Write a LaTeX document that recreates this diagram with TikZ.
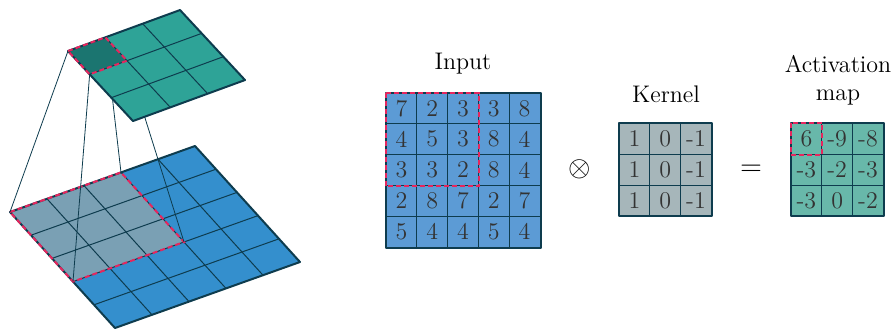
\documentclass[tikz,border=0pt]{standalone}
\usepackage{tikz}
\usetikzlibrary{positioning}
\usepackage{amsmath,amssymb,xcolor}
\definecolor{mygrid}{RGB}{14,60,78}
\definecolor{myred}{RGB}{230,38,94}
\definecolor{myblue}{RGB}{52,143,205}
\definecolor{mygray}{RGB}{122,160,180}
\definecolor{myteal}{RGB}{46,163,151}
\definecolor{mydark}{RGB}{27,117,112}
\definecolor{myinput}{RGB}{92,155,213}
\definecolor{mykernel}{RGB}{166,182,186}
\definecolor{myact}{RGB}{104,184,170}

\begin{document}
\begin{tikzpicture}[x=0.5pt,y=-0.5pt,
  gridline/.style={draw=mygrid,line width=0.5pt},
  border/.style={draw=mygrid,line width=1pt,line join=round},
  window/.style={draw=myred,line width=1pt,dash pattern=on 2.5pt off 1.5pt},
  link/.style={draw=mygrid,line width=0.4pt},
  cell/.style={rectangle,draw=mygrid,line width=0.5pt,minimum size=15.4pt,
               inner sep=0pt,font=\large,text=black!80},
  label/.style={font=\large,align=center,inner sep=0pt},
  bottomplane/.style={shift={(10,212)},x={(18.5pt,6.6pt)},y={(10.5pt,-11.6pt)}},
  topplane/.style={shift={(68,51)},x={(18.67pt,6.83pt)},y={(10.83pt,-11.67pt)}}]
\useasboundingbox (0,0) rectangle (896,329);

% input layer (5x5)
\begin{scope}[bottomplane]
  \fill[myblue] (0,0) -- (5,0) -- (5,5) -- (0,5) -- cycle;
  \fill[mygray] (0,0) -- (3,0) -- (3,3) -- (0,3) -- cycle;
  \foreach \i in {1,...,4} {
    \draw[gridline] (\i,0) -- (\i,5);
    \draw[gridline] (0,\i) -- (5,\i);
  }
  \draw[border] (0,0) -- (5,0) -- (5,5) -- (0,5) -- cycle;
  \draw[window] (0,0) -- (3,0) -- (3,3) -- (0,3) -- cycle;
  \coordinate (b00) at (0,0);
  \coordinate (b30) at (3,0);
  \coordinate (b03) at (0,3);
  \coordinate (b33) at (3,3);
\end{scope}

% corners of the output cell
\begin{scope}[topplane]
  \coordinate (t00) at (0,0);
  \coordinate (t10) at (1,0);
  \coordinate (t01) at (0,1);
  \coordinate (t11) at (1,1);
\end{scope}
\draw[link] (t00) -- (b00);
\draw[link] (t10) -- (b30);
\draw[link] (t01) -- (b03);
\draw[link] (t11) -- (b33);

% output layer (3x3)
\begin{scope}[topplane]
  \fill[myteal] (0,0) -- (3,0) -- (3,3) -- (0,3) -- cycle;
  \fill[mydark] (0,0) -- (1,0) -- (1,1) -- (0,1) -- cycle;
  \foreach \i in {1,2} {
    \draw[gridline] (\i,0) -- (\i,3);
    \draw[gridline] (0,\i) -- (3,\i);
  }
  \draw[border] (0,0) -- (3,0) -- (3,3) -- (0,3) -- cycle;
  \draw[window] (0,0) -- (1,0) -- (1,1) -- (0,1) -- cycle;
\end{scope}

% matrices
\foreach \row [count=\r] in {{7,2,3,3,8},{4,5,3,8,4},{3,3,2,8,4},{2,8,7,2,7},{5,4,4,5,4}}
  \foreach \v [count=\c] in \row
    \node[cell,fill=myinput] (in-\r-\c) at ({386+30.8*(\c-0.5)},{93+30.8*(\r-0.5)}) {\v};
\foreach \row [count=\r] in {{1,0,-1},{1,0,-1},{1,0,-1}}
  \foreach \v [count=\c] in \row
    \node[cell,fill=mykernel] (k-\r-\c) at ({619+30.8*(\c-0.5)},{123.5+30.8*(\r-0.5)}) {\v};
\foreach \row [count=\r] in {{6,-9,-8},{-3,-2,-3},{-3,0,-2}}
  \foreach \v [count=\c] in \row
    \node[cell,fill=myact] (a-\r-\c) at ({791+30.8*(\c-0.5)},{123.5+30.8*(\r-0.5)}) {\v};

\draw[border] (in-1-1.north west) rectangle (in-5-5.south east);
\draw[window] (in-1-1.north west) rectangle (in-3-3.south east);
\draw[border] (k-1-1.north west) rectangle (k-3-3.south east);
\draw[border] (a-1-1.north west) rectangle (a-3-3.south east);
\draw[window] (a-1-1.north west) rectangle (a-1-1.south east);

\node[label] (inlab) at (463,64) {Input};
\node[label] (klab) at (666,94) {Kernel};
\node[label] (alab) at (838,80) {Activation\\map};
\node[font=\Large] (conv) at (580,169) {$\otimes$};
\node[font=\Large] (eq) at (751,170) {$=$};
\end{tikzpicture}
\end{document}
